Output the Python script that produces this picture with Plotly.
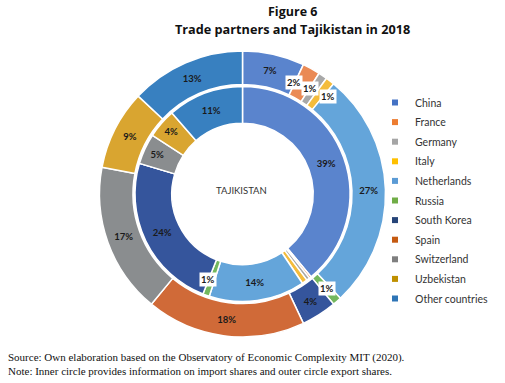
import math
import plotly.graph_objects as go

# ---------------- data ----------------
countries = ["China", "France", "Germany", "Italy", "Netherlands", "Russia",
             "South Korea", "Spain", "Switzerland", "Uzbekistan", "Other countries"]
export_shares = [7, 2, 1, 1, 27, 1, 4, 18, 17, 9, 13]          # outer ring
import_shares = [39.0, 0.3, 0.5, 0.8, 14.4, 1.0, 23.6, 0, 4.6, 4.4, 11.4]  # inner ring

title_line1 = "Figure 6"
title_line2 = "Trade partners and Tajikistan in 2018"
center_label = "TAJIKISTAN"
source_note = "Source: Own elaboration based on the Observatory of Economic Complexity MIT (2020)."
note_text = "Note: Inner circle provides information on import shares and outer circle export shares."

# ---------------- style ----------------
W, H = 505, 383
slice_colors = ["#5A84CD", "#EA8A55", "#A8A8A8", "#F4BC3C", "#64A5DA", "#74B85E",
                "#35559C", "#D06A38", "#8A8D8F", "#D9A530", "#3880C0"]
legend_colors = ["#4472C4", "#ED7D31", "#A5A5A5", "#FFC000", "#5B9BD5", "#70AD47",
                 "#264478", "#C55A11", "#7F7F7F", "#BF9000", "#2E75B6"]
CX, CY = 242.5, 194.0          # pie centre in px (from top-left)
R_OUT, R_OUT_HOLE = 143.0, 109.5
R_IN, R_IN_HOLE = 107.5, 70.7
label_font = dict(family="Lato", size=9.5, color="#1a1a1a")


def domain(r):
    return dict(x=[(CX - r) / W, (CX + r) / W],
                y=[(H - CY - r) / H, (H - CY + r) / H])


def templates(vals):
    return ["<b>%{percent:.0%}</b>" if v >= 3 else "" for v in vals]


fig = go.Figure()

fig.add_trace(go.Pie(
    labels=countries, values=export_shares, hole=R_OUT_HOLE / R_OUT,
    domain=domain(R_OUT), sort=False, direction="clockwise", rotation=0,
    marker=dict(colors=slice_colors, line=dict(color="white", width=1.5)),
    texttemplate=templates(export_shares), textposition="inside",
    insidetextorientation="horizontal", textfont=label_font,
    showlegend=False, hoverinfo="label+percent"))

fig.add_trace(go.Pie(
    labels=countries, values=import_shares, hole=R_IN_HOLE / R_IN,
    domain=domain(R_IN), sort=False, direction="clockwise", rotation=0,
    marker=dict(colors=slice_colors, line=dict(color="white", width=1.5)),
    texttemplate=templates(import_shares), textposition="inside",
    insidetextorientation="horizontal", textfont=label_font,
    showlegend=False, hoverinfo="label+percent"))


# boxed labels for the small slices, placed from the data's cumulative angles
def boxed_labels(vals, radius, offsets):
    total = sum(vals)
    cum = 0.0
    for i, v in enumerate(vals):
        start = cum
        cum += v
        if 0.95 <= v < 3:
            mid = (start + v / 2) / total * 360 + offsets.get(i, 0.0)
            rr = radius.get(i, 125) if isinstance(radius, dict) else radius
            x = CX + rr * math.sin(math.radians(mid))
            y = CY - rr * math.cos(math.radians(mid))
            fig.add_annotation(
                x=x / W, y=1 - y / H, xref="paper", yref="paper",
                xanchor="center", yanchor="middle",
                text="<b>%d%%</b>" % round(v / total * 100), showarrow=False,
                bgcolor="white", borderpad=1,
                font=dict(family="Lato", size=9.5, color="#1a1a1a"))


boxed_labels(export_shares, {1: 123, 2: 125, 3: 130, 5: 127}, {1: -4.3, 2: -1.6, 3: 3.3, 5: -0.6})
boxed_labels(import_shares, 92, {5: 2.0})

# legend entries (one per country)
for name, col in zip(countries, legend_colors):
    fig.add_trace(go.Scatter(
        x=[None], y=[None], mode="markers", name=name, legendgroup=name,
        marker=dict(symbol="square", size=6, color=col)))


def text_at(x, y, text, font, xanchor="center"):
    fig.add_annotation(x=x / W, y=1 - y / H, xref="paper", yref="paper",
                       xanchor=xanchor, yanchor="middle", text=text,
                       showarrow=False, font=font)


text_at(CX - 1, CY - 4, center_label, dict(family="Lato", size=9.5, color="#333333"))
text_at(292, 11, "<b>" + title_line1 + "</b>", dict(family="Open Sans", size=12.5, color="#111111"))
text_at(292, 29, "<b>" + title_line2 + "</b>", dict(family="Open Sans", size=12.7, color="#111111"))
text_at(6, 357, source_note, dict(family="Liberation Serif", size=11, color="#111111"), "left")
text_at(6, 371, note_text, dict(family="Liberation Serif", size=11, color="#111111"), "left")

fig.update_layout(
    width=W, height=H, margin=dict(l=0, r=0, t=0, b=0),
    paper_bgcolor="white", plot_bgcolor="white",
    xaxis=dict(visible=False), yaxis=dict(visible=False),
    legend=dict(x=375 / W, y=1 - 88 / H, xanchor="left", yanchor="top",
                font=dict(family="Lato", size=10.5, color="#333333"),
                traceorder="grouped", tracegroupgap=0.6,
                bgcolor="rgba(0,0,0,0)", itemwidth=30),
    showlegend=True,
)

fig.write_html("out.html", config={"displayModeBar": False},
               post_script="document.body.style.margin='0px';")
